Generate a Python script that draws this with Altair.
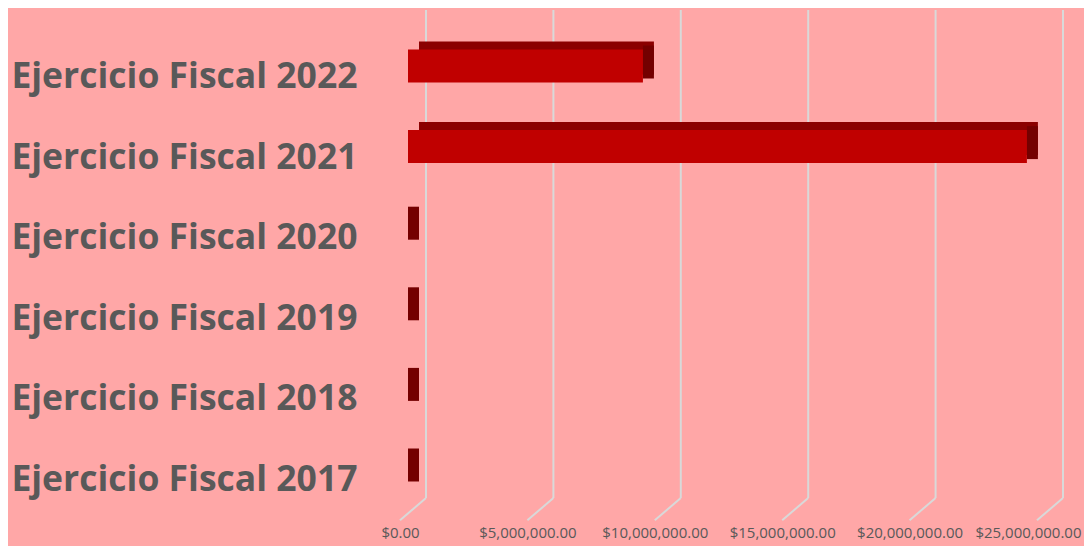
import altair as alt
import pandas as pd

categories = ["Ejercicio Fiscal 2022", "Ejercicio Fiscal 2021", "Ejercicio Fiscal 2020",
              "Ejercicio Fiscal 2019", "Ejercicio Fiscal 2018", "Ejercicio Fiscal 2017"]
values = [9220000, 24290000, 0, 0, 0, 0]
tick_values = [0, 5000000, 10000000, 15000000, 20000000, 25000000]

df = pd.DataFrame({"cat": categories, "val": values})
grid = pd.DataFrame({"t": tick_values})

W = 637
H = 483.6
BAR_H = 33

xs = alt.Scale(domain=[0, 25000000], nice=False, zero=True)
ys = alt.Scale(domain=categories, paddingInner=0, paddingOuter=0)

x_axis = alt.Axis(values=tick_values, format="$,.2f", grid=False, domain=False, ticks=False,
                  labelFont="Open Sans", labelFontSize=15, labelColor="#595959",
                  labelPadding=5,
                  labelOffset={"condition": {"test": "datum.value >= 25000000", "value": -17}, "value": -8},
                  labelFlush=False, title=None)
y_axis = alt.Axis(domain=False, ticks=False, grid=False, labelFont="Open Sans", labelFontWeight="bold",
                  labelFontSize=35.5, labelColor="#595959", labelPadding=51, labelLimit=400, title=None)

vgrid = alt.Chart(grid).mark_rule(color="#D9D9D9", strokeWidth=2, xOffset=18, x2Offset=18).encode(
    x=alt.X("t:Q", scale=xs, axis=x_axis),
    x2="t:Q",
    y=alt.value(-26.7),
    y2=alt.value(461.3),
)
dgrid = alt.Chart(grid).mark_rule(color="#D9D9D9", strokeWidth=2, xOffset=18, x2Offset=-8).encode(
    x=alt.X("t:Q", scale=xs),
    x2="t:Q",
    y=alt.value(461.3),
    y2=alt.value(H),
)

back = alt.Chart(df).mark_bar(color="#8B0000", height=BAR_H, xOffset=11, x2Offset=11, yOffset=-19).encode(
    y=alt.Y("cat:N", scale=ys, sort=categories, axis=y_axis),
    x=alt.X("val:Q", scale=xs),
    x2=alt.datum(0),
)
side = alt.Chart(df).mark_bar(color="#740000", height=BAR_H, x2Offset=11, yOffset=-15).encode(
    y=alt.Y("cat:N", scale=ys, sort=categories),
    x=alt.X("val:Q", scale=xs),
    x2="val:Q",
)
front = alt.Chart(df).mark_bar(color="#C00000", height=BAR_H, yOffset=-11).encode(
    y=alt.Y("cat:N", scale=ys, sort=categories),
    x=alt.X("val:Q", scale=xs),
    x2=alt.datum(0),
)

chart = alt.layer(vgrid, dgrid, back, side, front).properties(
    width=W, height=H,
    autosize=alt.AutoSizeParams(type="none"),
    padding={"left": 400, "top": 28.7, "right": 39, "bottom": 25.7},
    background="#FFA7A7",
).configure_view(stroke=None)

chart.save("out.html", embed_options={"renderer": "svg", "actions": False})
